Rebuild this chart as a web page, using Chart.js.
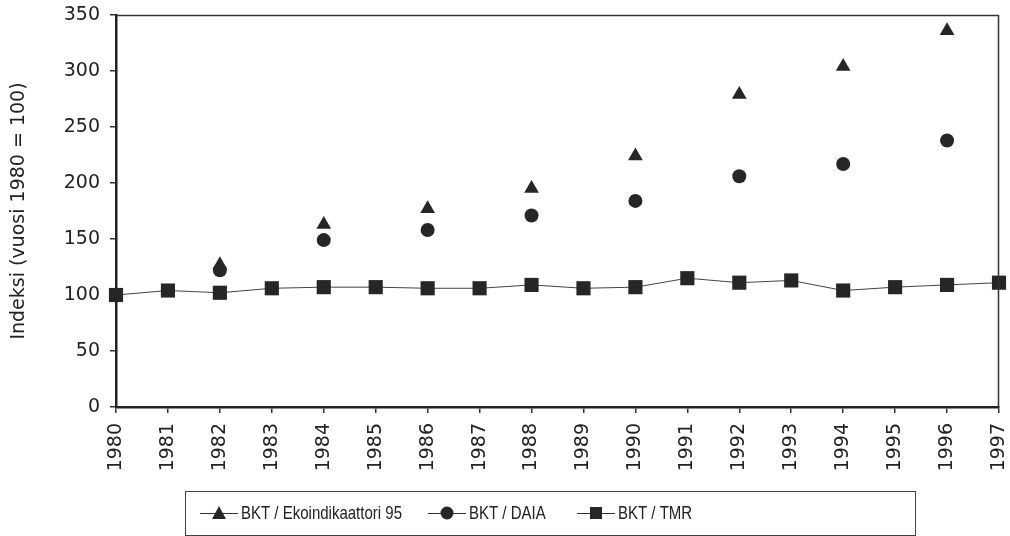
<!DOCTYPE html>
<html>
<head>
<meta charset="utf-8">
<script src="https://cdn.jsdelivr.net/npm/chart.js@4"></script>
<style>
  html, body { margin: 0; padding: 0; background: #fff; }
  #wrap { width: 1010px; height: 536px; }
</style>
</head>
<body>
<div id="wrap"><canvas id="indexChart" width="1010" height="536"></canvas></div>
<script>
const years = ["1980", "1981", "1982", "1983", "1984", "1985", "1986", "1987", "1988",
  "1989", "1990", "1991", "1992", "1993", "1994", "1995", "1996", "1997"];
const ekoValues = [null, null, 127, null, 163, null, 177, null, 195, null, 224, null, 279, null, 304, null, 336, null];
const daiaValues = [null, null, 122, null, 149, null, 158, null, 171, null, 184, null, 206, null, 217, null, 238, null];
const tmrValues = [100, 104, 102, 106, 107, 107, 106, 106, 109, 106, 107, 115, 111, 113, 104, 107, 109, 111];
const seriesNames = ["BKT / Ekoindikaattori 95", "BKT / DAIA", "BKT / TMR"];
const yTicks = [0, 50, 100, 150, 200, 250, 300, 350];

const ink = "#262626";
const tickFont = "'DejaVu Sans', sans-serif";
const legendFont = "'Liberation Sans', Arial, sans-serif";

const frame = {
  id: "frame",
  afterDraw(chart) {
    const { ctx, chartArea: a } = chart;
    ctx.save();
    ctx.strokeStyle = "#333";
    ctx.lineWidth = 1.5;
    ctx.beginPath();
    ctx.moveTo(a.left, a.top + 0.5);
    ctx.lineTo(a.right - 0.5, a.top + 0.5);
    ctx.lineTo(a.right - 0.5, a.bottom);
    ctx.stroke();

    // legend box, text squeezed a bit like the original
    const bx = 185, by = 491, bw = 730, bh = 44;
    ctx.lineWidth = 1;
    ctx.strokeStyle = "#444";
    ctx.strokeRect(bx + 0.5, by + 0.5, bw, bh);
    const styles = ["triangle", "circle", "rect"];
    const starts = [200, 428, 577];
    ctx.font = "19px " + legendFont;
    ctx.textBaseline = "middle";
    const squeeze = 161 / ctx.measureText(chart.data.datasets[0].label).width;
    const cy = by + bh / 2;
    chart.data.datasets.forEach((ds, i) => {
      const x0 = starts[i];
      ctx.strokeStyle = "#333";
      ctx.lineWidth = 1;
      ctx.beginPath();
      ctx.moveTo(x0, cy + 0.5);
      ctx.lineTo(x0 + 38, cy + 0.5);
      ctx.stroke();
      ctx.fillStyle = ink;
      const mx = x0 + 19;
      if (styles[i] === "triangle") {
        ctx.beginPath();
        ctx.moveTo(mx, cy - 7);
        ctx.lineTo(mx + 7, cy + 6);
        ctx.lineTo(mx - 7, cy + 6);
        ctx.closePath();
        ctx.fill();
      } else if (styles[i] === "circle") {
        ctx.beginPath();
        ctx.arc(mx, cy, 6.5, 0, Math.PI * 2);
        ctx.fill();
      } else {
        ctx.fillRect(mx - 6, cy - 6, 12, 12);
      }
      ctx.fillStyle = "#222";
      ctx.save();
      ctx.translate(x0 + 41, cy + 1);
      ctx.scale(squeeze, 1);
      ctx.fillText(ds.label, 0, 0);
      ctx.restore();
    });
    ctx.restore();
  }
};

const canvas = document.getElementById("indexChart");

new Chart(canvas, {
  type: "line",
  data: {
    labels: years,
    datasets: [
      {
        label: seriesNames[0],
        data: ekoValues,
        showLine: false,
        pointStyle: "triangle",
        pointRadius: 8.5,
        backgroundColor: ink,
        borderColor: ink,
        borderWidth: 0,
      },
      {
        label: seriesNames[1],
        data: daiaValues,
        showLine: false,
        pointStyle: "circle",
        pointRadius: 7,
        backgroundColor: ink,
        borderColor: ink,
        borderWidth: 0,
      },
      {
        label: seriesNames[2],
        data: tmrValues,
        pointStyle: "rect",
        pointRadius: 10,
        backgroundColor: ink,
        borderColor: "#444",
        borderWidth: 1,
        pointBorderWidth: 0,
        tension: 0,
      },
    ],
  },
  options: {
    responsive: false,
    animation: false,
    layout: { padding: { top: 15, right: 11, left: 0, bottom: 0 } },
    plugins: {
      legend: { display: false },
      tooltip: { enabled: false },
    },
    scales: {
      x: {
        offset: false,
        grid: { display: true, drawOnChartArea: false, drawTicks: true, tickLength: 6, color: "#333", lineWidth: 1.5 },
        border: { display: true, color: "#222", width: 2.5 },
        ticks: {
          color: "#222",
          font: { family: tickFont, size: 19 },
          minRotation: 90,
          maxRotation: 90,
          autoSkip: false,
          padding: 10,
        },
        afterFit(scale) {
          scale.height = 129;
          scale.paddingLeft = 0;
          scale.paddingRight = 0;
        },
      },
      y: {
        min: 0,
        max: 350,
        afterBuildTicks(scale) { scale.ticks = yTicks.map(v => ({ value: v })); },
        grid: { display: true, drawOnChartArea: false, drawTicks: true, tickLength: 6, color: "#333", lineWidth: 1.5 },
        border: { display: true, color: "#222", width: 2.5 },
        ticks: {
          color: "#222",
          font: { family: tickFont, size: 19 },
          padding: 10,
        },
        title: {
          display: true,
          text: "Indeksi (vuosi 1980 = 100)",
          color: "#222",
          font: { family: tickFont, size: 19 },
          padding: { top: 8, bottom: 2 },
        },
        afterFit(scale) {
          scale.width = 116;
          scale.paddingTop = 0;
          scale.paddingBottom = 0;
        },
      },
    },
  },
  plugins: [frame],
});
</script>
</body>
</html>
